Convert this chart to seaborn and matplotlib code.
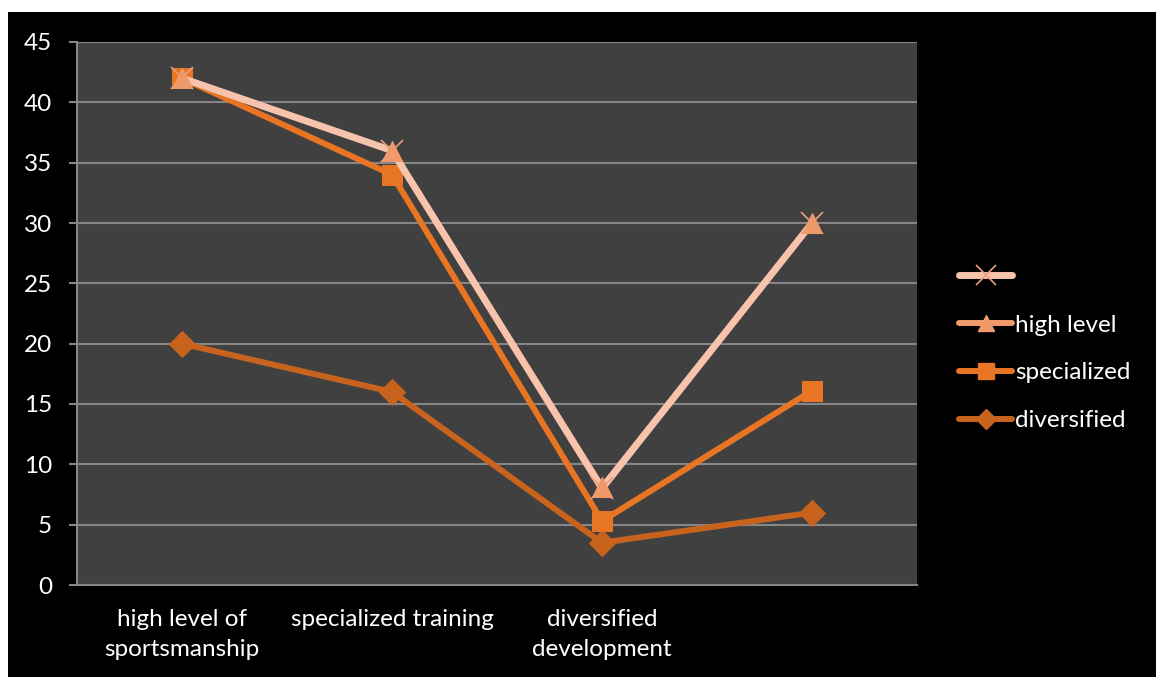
import matplotlib
matplotlib.use("Agg")
import matplotlib.pyplot as plt
from matplotlib.lines import Line2D
from matplotlib.patches import Rectangle
import seaborn as sns

categories = ["high level of\nsportsmanship", "specialized training", "diversified\ndevelopment", ""]
unnamed = [42, 36, 8, 30]
high_level = [42, 36, 8.1, 30]
specialized = [42, 34, 5.3, 16.1]
diversified = [20, 16, 3.5, 6]
yticks = [0, 5, 10, 15, 20, 25, 30, 35, 40, 45]

sns.set_style("white")
plt.rcParams["font.family"] = ["Lato", "DejaVu Sans"]

c_pink = "#F8C3AC"
c_salmon = "#F09A6C"
c_orange = "#E87524"
c_dark = "#C8631E"
grid_c = "#868686"

fig = plt.figure(figsize=(11.56, 6.77), dpi=100, facecolor="white")
fig.patches.append(Rectangle((8 / 1156, 0), 1, 1 - 12 / 677, transform=fig.transFigure,
                             facecolor="black", edgecolor="none", zorder=-10))
ax = fig.add_axes([77 / 1156, 1 - 585 / 677, 840 / 1156, 543 / 677])
ax.set_facecolor("#404040")

x = list(range(len(categories)))

sns.lineplot(x=x, y=diversified, ax=ax, color=c_dark, lw=4.3, marker="D", ms=13,
             mec=c_dark, mfc=c_dark, zorder=3)
sns.lineplot(x=x, y=specialized, ax=ax, color=c_orange, lw=4.3, marker="s", ms=14,
             mec=c_orange, mfc=c_orange, zorder=4)
sns.lineplot(x=x, y=high_level, ax=ax, color=c_salmon, lw=4.3, zorder=4.5)
sns.lineplot(x=x, y=unnamed, ax=ax, color=c_pink, lw=5, marker="x", ms=16, mew=1.2,
             mec="#E8A080", zorder=5)
sns.lineplot(x=x, y=high_level, ax=ax, color=c_salmon, lw=0, marker="^", ms=14,
             mec=c_salmon, mfc=c_salmon, zorder=6)

ax.set_xlim(-0.5, len(categories) - 0.5)
ax.set_ylim(0, 45)
ax.set_yticks(yticks)
ax.set_xticks(x)
ax.set_xticklabels(categories, color="white", fontsize=17.5, linespacing=1.55)
ax.set_xticks([i - 0.5 for i in range(len(categories) + 1)], minor=True)
ax.tick_params(axis="x", which="major", length=0, pad=17)
ax.tick_params(axis="x", which="minor", length=6, width=1.5, color=grid_c, direction="out")
ax.tick_params(axis="y", length=6, width=1.5, color=grid_c, labelcolor="white",
               labelsize=17.5, pad=12, left=True)
ax.yaxis.grid(True, color=grid_c, lw=1.5)
ax.set_axisbelow(True)
for s in ["top", "right"]:
    ax.spines[s].set_visible(False)
for s in ["left", "bottom"]:
    ax.spines[s].set_color(grid_c)
    ax.spines[s].set_linewidth(1.5)
ax.set_xlabel("")
ax.set_ylabel("")

handles = [
    Line2D([], [], color=c_pink, lw=5, marker="x", ms=14, mew=1.2, mec="#E8A080"),
    Line2D([], [], color=c_salmon, lw=4.3, marker="^", ms=12, mfc=c_salmon, mec=c_salmon),
    Line2D([], [], color=c_orange, lw=4.3, marker="s", ms=12, mfc=c_orange, mec=c_orange),
    Line2D([], [], color=c_dark, lw=4.3, marker="D", ms=10, mfc=c_dark, mec=c_dark),
]
labels = ["", "high level", "specialized", "diversified"]
leg = fig.legend(handles, labels, loc="center left", bbox_to_anchor=(937 / 1156, 1 - 349 / 677),
                 frameon=False, fontsize=17.5, labelcolor="white", handlelength=2.2,
                 handletextpad=0.1, labelspacing=1.1)

fig.savefig("out.png", dpi=100, facecolor=fig.get_facecolor())
